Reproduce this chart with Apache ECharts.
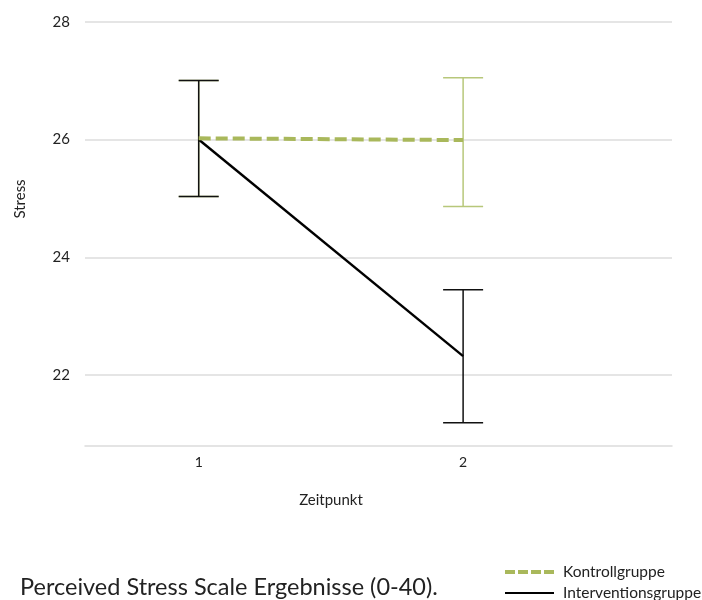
<!DOCTYPE html>
<html><head><meta charset="utf-8">
<script src="https://cdn.jsdelivr.net/npm/echarts@6/dist/echarts.min.js"></script>
<style>html,body{margin:0;padding:0;background:#fff}#c{width:702px;height:600px}</style>
</head><body><div id="c"></div>
<script>
const timepoints = [1, 2];
const yTicks = [22, 24, 26, 28];
const kontrollMean = [26.02, 25.99];
const kontrollLow = [25.03, 24.86];
const kontrollHigh = [27.0, 27.05];
const interventionMean = [26.0, 22.32];
const interventionLow = [25.03, 21.19];
const interventionHigh = [27.0, 23.45];

const FONT = 'Lato';
const green = '#a9b85b';
const greenBar = '#b7c77a';

function errData(lo, hi) { return timepoints.map((t, i) => [t, lo[i], hi[i]]); }
function errRender(color) {
  return function (params, api) {
    const x = api.value(0);
    const p1 = api.coord([x, api.value(1)]);
    const p2 = api.coord([x, api.value(2)]);
    const hw = 20;
    const style = { stroke: color, lineWidth: 1.5, fill: null };
    return { type: 'group', children: [
      { type: 'line', shape: { x1: p1[0], y1: p1[1], x2: p2[0], y2: p2[1] }, style },
      { type: 'line', shape: { x1: p1[0] - hw, y1: p1[1], x2: p1[0] + hw, y2: p1[1] }, style },
      { type: 'line', shape: { x1: p2[0] - hw, y1: p2[1], x2: p2[0] + hw, y2: p2[1] }, style }
    ]};
  };
}

const dashIcon = 'path://M0,0h10v4h-10zM13,0h10v4h-10zM26,0h10v4h-10zM39,0h10v4h-10z';
const solidIcon = 'path://M0,0h49v2h-49z';
const legendText = { fontSize: 15.5, color: '#222', fontFamily: FONT, padding: [0, 0, 0, 4] };

const chart = echarts.init(document.getElementById('c'));
chart.setOption({
  animation: false,
  textStyle: { fontFamily: FONT },
  grid: { left: 85, right: 30, top: 21.7, bottom: 154.3, containLabel: false },
  xAxis: {
    type: 'value', min: 0.57, max: 2.79,
    axisLine: { show: true, lineStyle: { color: '#dcdcdc', width: 1.5 } },
    axisTick: { show: false },
    splitLine: { show: false },
    axisLabel: { customValues: timepoints, color: '#222', fontSize: 14, margin: 10, fontFamily: FONT }
  },
  yAxis: {
    type: 'value', min: 20.8, max: 28,
    axisLine: { show: false },
    axisTick: { show: false, customValues: yTicks },
    axisLabel: { customValues: yTicks, color: '#222', fontSize: 15, margin: 15, fontFamily: FONT },
    splitLine: { show: true, lineStyle: { color: '#dcdcdc', width: 1.5 } }
  },
  legend: [
    { left: 500, top: 559, itemWidth: 49, itemHeight: 4, textStyle: legendText,
      data: [{ name: 'Kontrollgruppe', icon: dashIcon }] },
    { left: 500, top: 580, itemWidth: 49, itemHeight: 4, textStyle: legendText,
      data: [{ name: 'Interventionsgruppe', icon: solidIcon }] }
  ],
  graphic: [
    { type: 'text', left: 20, top: 575, style: { text: 'Perceived Stress Scale Ergebnisse (0-40).', font: '23.5px ' + FONT, fill: '#222' } },
    { type: 'text', x: 331, y: 500, style: { text: 'Zeitpunkt', font: '15px ' + FONT, fill: '#222', align: 'center', verticalAlign: 'middle' } },
    { type: 'text', x: 20, y: 199, rotation: Math.PI / 2, style: { text: 'Stress', font: '15px ' + FONT, fill: '#222', align: 'center', verticalAlign: 'middle' } }
  ],
  series: [
    { name: 'kErr', type: 'custom', renderItem: errRender(greenBar), data: errData(kontrollLow, kontrollHigh), encode: { x: 0, y: [1, 2] }, z: 2 },
    { name: 'iErr', type: 'custom', renderItem: errRender('#111'), data: errData(interventionLow, interventionHigh), encode: { x: 0, y: [1, 2] }, z: 3 },
    { name: 'Interventionsgruppe', type: 'line', symbol: 'none', data: timepoints.map((t, i) => [t, interventionMean[i]]), lineStyle: { color: '#000', width: 2.4 }, itemStyle: { color: '#000' }, z: 4 },
    { name: 'Kontrollgruppe', type: 'line', symbol: 'none', data: timepoints.map((t, i) => [t, kontrollMean[i]]), lineStyle: { color: green, width: 4, type: [12, 5] }, itemStyle: { color: green }, z: 5 }
  ]
});
</script></body></html>
